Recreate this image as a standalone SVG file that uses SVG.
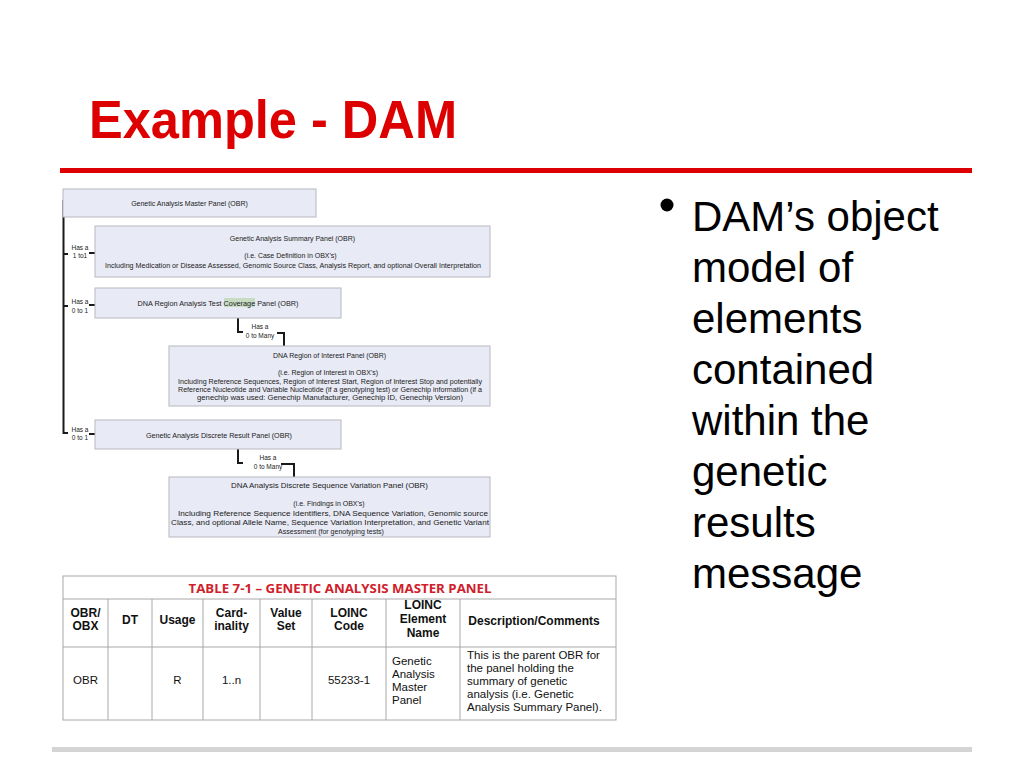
<svg xmlns="http://www.w3.org/2000/svg" width="1024" height="768" viewBox="0 0 1024 768">
<style>
.box{fill:#e8eaf5;stroke:#b8b8c0;stroke-width:1}
.t{font-family:"Liberation Sans",Arial,sans-serif;font-size:7px;fill:#222;text-anchor:middle}
.lbl{font-family:"Liberation Sans",Arial,sans-serif;font-size:6.5px;fill:#222;text-anchor:middle}
.con{fill:none;stroke:#1a1a1a;stroke-width:2}
.th{font-family:"Liberation Sans",Arial,sans-serif;font-size:12px;font-weight:bold;fill:#111;text-anchor:middle}
.td{font-family:"Liberation Sans",Arial,sans-serif;font-size:11.5px;fill:#111}
.grid{fill:none;stroke:#a8a8a8;stroke-width:1}
</style>
<rect width="1024" height="768" fill="#ffffff"/>
<text x="89" y="138" font-family="'Liberation Sans',Arial,sans-serif" font-size="53" font-weight="bold" fill="#dd0000" textLength="368" lengthAdjust="spacingAndGlyphs">Example - DAM</text>
<rect x="60" y="168" width="912" height="5" fill="#dd0000"/>
<rect x="52" y="747" width="920" height="5" fill="#d4d4d4"/>

<g id="connectors">
<path class="con" d="M63.5,200 V433 H68"/>
<path class="con" d="M63.5,254 H68 M89,253 H95"/>
<path class="con" d="M63.5,306 H68 M89,305 H95"/>
<path class="con" d="M89,434 H95"/>
<path class="con" d="M238,318 V332 H243 M277,333 H284 V346"/>
<path class="con" d="M238,449 V463 H243 M281,464 H294 V477"/>
<text class="lbl" x="80" y="250">Has a</text>
<text class="lbl" x="80" y="258">1 to1</text>
<text class="lbl" x="80" y="304">Has a</text>
<text class="lbl" x="80" y="313">0 to 1</text>
<text class="lbl" x="80" y="432">Has a</text>
<text class="lbl" x="80" y="440">0 to 1</text>
<text class="lbl" x="260" y="329">Has a</text>
<text class="lbl" x="260" y="338">0 to Many</text>
<text class="lbl" x="268" y="460">Has a</text>
<text class="lbl" x="268" y="469">0 to Many</text>
</g>

<g id="master">
<rect class="box" x="63" y="189" width="253" height="28"/>
<text class="t" x="189.5" y="205.5">Genetic Analysis Master Panel (OBR)</text>
</g>
<g id="summary">
<rect class="box" x="95" y="226" width="395" height="51"/>
<text class="t" x="292.5" y="240.5">Genetic Analysis Summary Panel (OBR)</text>
<text class="t" x="290.5" y="258">(i.e. Case Definition in OBX's)</text>
<text class="t" x="293" y="267.5" textLength="376" lengthAdjust="spacingAndGlyphs">Including Medication or Disease Assessed, Genomic Source Class, Analysis Report, and optional Overall Interpretation</text>
</g>
<g id="coverage">
<rect class="box" x="95" y="288" width="246" height="30"/>
<rect x="224" y="298" width="31" height="9" fill="#c8dcc4"/>
<text class="t" x="218" y="305.5" textLength="161" lengthAdjust="spacingAndGlyphs">DNA Region Analysis Test Coverage Panel (OBR)</text>
</g>
<g id="region">
<rect class="box" x="169" y="346" width="321" height="60"/>
<text class="t" x="329.5" y="357.5">DNA Region of Interest Panel (OBR)</text>
<text class="t" x="328" y="374.5">(i.e. Region of Interest in OBX's)</text>
<text class="t" x="330" y="383.5" textLength="304" lengthAdjust="spacingAndGlyphs">Including Reference Sequences, Region of Interest Start, Region of Interest Stop and potentially</text>
<text class="t" x="330" y="391.5" textLength="304" lengthAdjust="spacingAndGlyphs">Reference Nucleotide and Variable Nucleotide (if a genotyping test) or Genechip information (if a</text>
<text class="t" x="330" y="399.5" textLength="266" lengthAdjust="spacingAndGlyphs">genechip was used: Genechip Manufacturer, Genechip ID, Genechip Version)</text>
</g>
<g id="discrete">
<rect class="box" x="95" y="420" width="246" height="29"/>
<text class="t" x="219" y="437.5" textLength="146" lengthAdjust="spacingAndGlyphs">Genetic Analysis Discrete Result Panel (OBR)</text>
</g>
<g id="variation">
<rect class="box" x="169" y="477" width="321" height="60"/>
<text class="t" x="329.5" y="487.5" textLength="197" lengthAdjust="spacingAndGlyphs">DNA Analysis Discrete Sequence Variation Panel (OBR)</text>
<text class="t" x="329" y="505.5">(i.e. Findings in OBX's)</text>
<text class="t" x="333" y="515.5" textLength="310" lengthAdjust="spacingAndGlyphs">Including Reference Sequence Identifiers, DNA Sequence Variation, Genomic source</text>
<text class="t" x="330" y="525" textLength="318" lengthAdjust="spacingAndGlyphs">Class, and optional Allele Name, Sequence Variation Interpretation, and Genetic Variant</text>
<text class="t" x="331" y="533.5">Assessment (for genotyping tests)</text>
</g>

<g id="table">
<rect class="grid" x="63" y="576" width="553" height="144"/>
<path class="grid" d="M63,599 H616 M63,647 H616 M108,599 V720 M152,599 V720 M203,599 V720 M260,599 V720 M312,599 V720 M386,599 V720 M460,599 V720"/>
<text x="340" y="593" font-family="'Open Sans','Liberation Sans',sans-serif" font-size="13" font-weight="bold" fill="#d0202a" text-anchor="middle" textLength="303" lengthAdjust="spacingAndGlyphs">TABLE 7-1 – GENETIC ANALYSIS MASTER PANEL</text>
<text class="th" x="85.5" y="617">OBR/</text>
<text class="th" x="85.5" y="630">OBX</text>
<text class="th" x="130" y="624">DT</text>
<text class="th" x="177.5" y="624">Usage</text>
<text class="th" x="231.5" y="617">Card-</text>
<text class="th" x="231.5" y="630">inality</text>
<text class="th" x="286" y="617">Value</text>
<text class="th" x="286" y="630">Set</text>
<text class="th" x="349" y="617">LOINC</text>
<text class="th" x="349" y="630">Code</text>
<text class="th" x="423" y="609">LOINC</text>
<text class="th" x="423" y="623">Element</text>
<text class="th" x="423" y="637">Name</text>
<text class="th" x="534" y="625">Description/Comments</text>
<text class="td" x="85.5" y="684" text-anchor="middle">OBR</text>
<text class="td" x="177.5" y="684" text-anchor="middle">R</text>
<text class="td" x="231.5" y="684" text-anchor="middle">1..n</text>
<text class="td" x="349" y="684" text-anchor="middle">55233-1</text>
<text class="td" x="392" y="665">Genetic</text>
<text class="td" x="392" y="678">Analysis</text>
<text class="td" x="392" y="691">Master</text>
<text class="td" x="392" y="704">Panel</text>
<text class="td" x="467" y="659">This is the parent OBR for</text>
<text class="td" x="467" y="672">the panel holding the</text>
<text class="td" x="467" y="685">summary of genetic</text>
<text class="td" x="467" y="698">analysis (i.e. Genetic</text>
<text class="td" x="467" y="711">Analysis Summary Panel).</text>
</g>

<g id="bullet">
<circle cx="667" cy="205" r="6.5" fill="#000"/>
<g font-family="'Liberation Sans',Arial,sans-serif" font-size="42" fill="#000">
<text x="692" y="231">DAM’s object</text>
<text x="692" y="282">model of</text>
<text x="692" y="333">elements</text>
<text x="692" y="384">contained</text>
<text x="692" y="435">within the</text>
<text x="692" y="486">genetic</text>
<text x="692" y="537">results</text>
<text x="692" y="588">message</text>
</g>
</g>
</svg>
